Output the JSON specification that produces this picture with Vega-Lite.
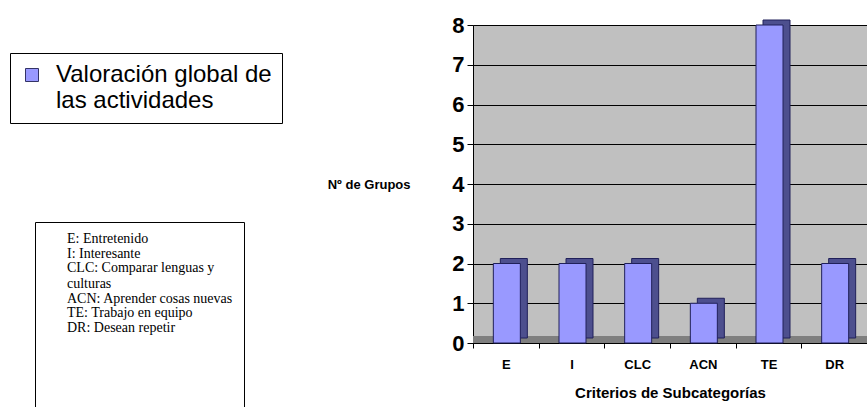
{
  "$schema": "https://vega.github.io/schema/vega-lite/v6.json",
  "width": 394,
  "height": 318,
  "autosize": "none",
  "padding": {"left": 473, "top": 25, "right": 0, "bottom": 64},
  "background": "white",
  "config": {
    "view": {"fill": "#C0C0C0", "stroke": "#808080"},
    "axisX": {"labelFont": "Liberation Sans", "labelFontSize": 13, "labelFontWeight": "bold", "labelColor": "black", "labelAngle": 0, "labelPadding": 10, "tickBand": "extent", "tickColor": "black", "tickSize": 5, "domainColor": "black", "titleFont": "Liberation Sans", "titleFontSize": 15, "titleFontWeight": "bold", "titleColor": "black", "titlePadding": 14, "grid": false},
    "axisY": {"tickCount": 8, "titleAngle": 0, "titleAlign": "right", "titleBaseline": "middle", "titleX": -63, "titleY": 159, "titleFont": "Liberation Sans", "titleFontSize": 13, "titleFontWeight": "bold", "titleColor": "black", "labelFont": "Liberation Sans", "labelFontSize": 22, "labelFontWeight": "bold", "labelColor": "black", "labelPadding": 3, "tickColor": "black", "tickSize": 6, "domainColor": "black", "grid": true, "gridColor": "black", "gridWidth": 1, "gridOpacity": 1}
  },
  "data": {"values": [
    {"cat": "E", "def": "E: Entretenido", "value": 2, "serie": "Valoración global de las actividades"},
    {"cat": "I", "def": "I: Interesante", "value": 2, "serie": "Valoración global de las actividades"},
    {"cat": "CLC", "def": "CLC: Comparar lenguas y culturas", "value": 2, "serie": "Valoración global de las actividades"},
    {"cat": "ACN", "def": "ACN: Aprender cosas nuevas", "value": 1, "serie": "Valoración global de las actividades"},
    {"cat": "TE", "def": "TE: Trabajo en equipo", "value": 8, "serie": "Valoración global de las actividades"},
    {"cat": "DR", "def": "DR: Desean repetir", "value": 2, "serie": "Valoración global de las actividades"}
  ]},
  "layer": [
    {
      "mark": {"type": "rule", "color": "#7f7f7f", "strokeWidth": 7, "yOffset": -3.5},
      "encoding": {"y": {"datum": 0, "type": "quantitative", "scale": {"domain": [0, 8], "nice": false}, "axis": {"title": "Nº de Grupos"}}}
    },
    {
      "mark": {"type": "bar", "width": 27, "color": "#4D4F8E", "stroke": "#20205a", "strokeWidth": 1, "xOffset": 8, "yOffset": -5},
      "encoding": {
        "x": {"field": "cat", "type": "nominal", "sort": null, "scale": {"paddingInner": 0, "paddingOuter": 0}, "axis": {"title": "Criterios de Subcategorías"}},
        "y": {"field": "value", "type": "quantitative", "scale": {"domain": [0, 8], "nice": false}, "axis": {"title": "Nº de Grupos"}}
      }
    },
    {
      "mark": {"type": "bar", "width": 27, "stroke": "#20205a", "strokeWidth": 1, "xOffset": 1},
      "encoding": {
        "x": {"field": "cat", "type": "nominal", "sort": null, "scale": {"paddingInner": 0, "paddingOuter": 0}, "axis": {"title": "Criterios de Subcategorías"}},
        "y": {"field": "value", "type": "quantitative", "scale": {"domain": [0, 8], "nice": false}, "axis": {"title": "Nº de Grupos"}},
        "color": {"field": "serie", "type": "nominal", "scale": {"range": ["#9999FF"]},
          "legend": {"orient": "none", "legendX": -463, "legendY": 28, "title": null, "strokeColor": "black", "fillColor": "white", "padding": 10, "symbolType": "square", "symbolSize": 169, "symbolStrokeColor": "#333366", "symbolStrokeWidth": 1, "labelFont": "Liberation Sans", "labelFontSize": 24, "labelColor": "black", "labelOffset": 12, "labelLimit": 400, "labelExpr": "['Valoración global de', 'las actividades']"}}
      }
    },
    {
      "mark": {"type": "point", "opacity": 0},
      "encoding": {
        "x": {"field": "cat", "type": "nominal", "sort": null, "axis": {"title": "Criterios de Subcategorías"}},
        "y": {"field": "value", "type": "quantitative", "axis": {"title": "Nº de Grupos"}},
        "shape": {"field": "def", "type": "nominal",
          "scale": {"domain": ["E: Entretenido", "I: Interesante", "CLC: Comparar lenguas y culturas", "ACN: Aprender cosas nuevas", "TE: Trabajo en equipo", "DR: Desean repetir", " ", "  ", "   ", "    ", "     ", "      "],
            "range": ["circle", "circle", "circle", "circle", "circle", "circle", "circle", "circle", "circle", "circle", "circle", "circle"]},
          "legend": {"orient": "none", "legendX": -438, "legendY": 197, "title": null, "strokeColor": "black", "fillColor": "white", "padding": 10, "symbolSize": 0, "symbolOpacity": 0, "symbolStrokeWidth": 0, "labelFont": "Liberation Serif", "labelFontSize": 14, "labelColor": "black", "labelOffset": 8, "rowPadding": 0.5, "labelLimit": 400,
            "labelExpr": "datum.label == 'CLC: Comparar lenguas y culturas' ? ['CLC: Comparar lenguas y', '\u3000culturas'] : datum.label"}}
      }
    }
  ]
}
